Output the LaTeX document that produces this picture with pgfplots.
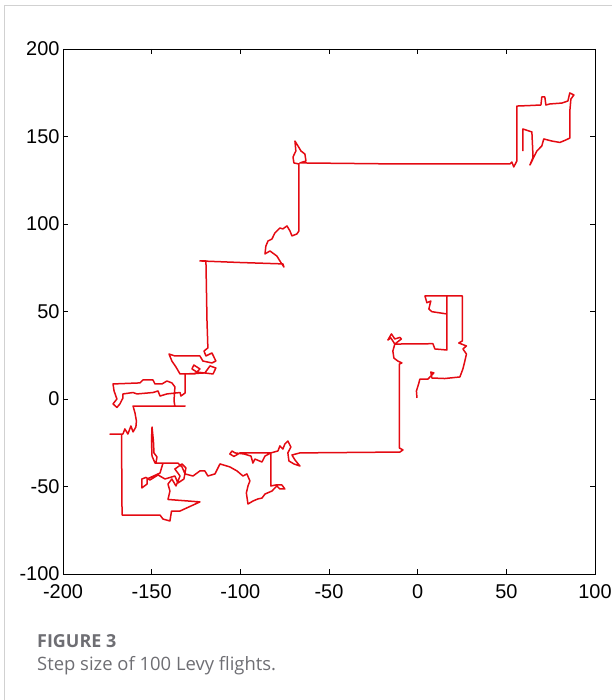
\documentclass[border=0pt]{standalone}
\usepackage{pgfplots}
\pgfplotsset{compat=1.18}
\usepackage{fontspec}
\setmainfont{Liberation Sans}
\newfontfamily\capfont{Open Sans}
\definecolor{levyred}{RGB}{228,10,18}
\definecolor{capgray}{RGB}{110,110,115}
\begin{document}
\begin{tikzpicture}[x=1bp,y=1bp]
\path[use as bounding box] (0,0) rectangle (612,-700);
\draw[black!18, line width=1bp] (4.5,-700) -- (4.5,-5.5) -- (612,-5.5);
\begin{axis}[
  at={(63bp,-49bp)}, anchor=north west,
  scale only axis, width=532bp, height=525bp,
  xmin=-200, xmax=100, ymin=-100, ymax=200,
  xtick={-200,-150,...,100}, ytick={-100,-50,...,200},
  tick align=inside, major tick length=5bp,
  axis line style={line width=0.8bp},
  tick style={line width=0.8bp, black},
  ticklabel style={font=\fontsize{20}{24}\selectfont},
  xticklabel style={yshift=-7bp},
  /pgf/number format/assume math mode=true,
]
\addplot[levyred, line width=1.5bp, line join=round] coordinates {
(59.3,141.7) (59.3,154.3) (64.4,152.6) (64.9,141.7) (64.9,137.7) (63.3,133.7)
(67.2,141.7) (70.0,144.6) (71.1,148.6) (75.7,147.4) (80.2,146.6) (83.5,148.0)
(85.8,149.1) (85.8,164.6) (86.4,171.4) (88.1,173.7) (85.8,174.9) (84.7,170.3)
(81.3,169.1) (74.5,168.6) (72.3,168.0) (71.7,172.6) (70.0,172.6) (69.5,168.0)
(63.3,167.7) (55.9,167.4) (55.9,136.0) (54.2,132.6) (53.1,135.4) (52.0,134.3)
(18.2,134.3) (-10.0,134.3) (-38.2,134.6) (-66.4,134.9)
(-63.0,136.0) (-63.6,140.0) (-65.8,141.7) (-67.5,144.6) (-69.2,147.4) (-68.7,141.7)
(-70.3,138.3) (-69.8,134.9) (-67.0,134.3) (-67.0,96.0) (-68.1,94.3) (-70.9,93.2)
(-72.0,96.0) (-73.7,98.9) (-76.0,97.2) (-77.7,97.7) (-80.5,94.9) (-82.2,91.4)
(-84.4,90.3) (-85.6,87.4) (-86.1,82.9) (-83.3,84.6) (-79.4,81.7) (-77.7,78.9)
(-75.4,75.4) (-76.0,77.2) (-100.2,78.0) (-122.8,78.9) (-119.4,78.9) (-118.8,44.6)
(-118.3,29.2)
(-120.5,27.4) (-119.4,24.6) (-116.0,26.3) (-113.8,21.7) (-116.0,20.6) (-121.1,21.7)
(-122.8,24.6) (-136.9,24.6) (-140.2,25.7) (-138.6,21.7) (-136.3,18.3) (-134.0,14.3)
(-125.6,14.3) (-122.8,17.2) (-126.2,19.4) (-127.3,17.2) (-124.5,15.4) (-115.4,14.3)
(-113.8,17.7) (-117.1,18.9) (-120.0,14.9) (-131.2,14.3) (-131.2,3.4) (-133.5,1.7)
(-134.0,3.7) (-141.4,2.9) (-145.3,1.7) (-146.4,4.6) (-149.3,3.7) (-158.3,2.9)
(-160.5,3.7) (-166.2,2.9) (-166.2,0.6) (-167.9,-2.8) (-169.6,-4.8) (-171.8,-2.8)
(-169.6,0.0) (-171.2,4.6) (-171.8,8.6) (-156.6,9.2) (-154.9,10.9) (-149.3,10.9)
(-148.1,8.6) (-144.2,8.6) (-141.4,10.3) (-138.6,9.2) (-136.9,6.9) (-137.4,-1.1)
(-136.9,-4.0) (-131.2,-4.0) (-160.5,-4.0) (-159.4,-8.0) (-158.6,-12.6) (-158.9,-16.0)
(-160.5,-18.8) (-161.7,-15.4) (-163.4,-20.0) (-165.1,-17.1) (-166.2,-20.0) (-173.5,-20.0)
(-167.0,-20.0) (-166.7,-66.3) (-145.3,-66.3) (-143.6,-68.6) (-139.7,-69.7) (-138.8,-64.0)
(-134.0,-64.0) (-122.8,-58.8) (-140.8,-57.4) (-139.7,-52.6) (-140.8,-48.6) (-138.6,-45.7)
(-136.3,-49.7) (-134.0,-44.0) (-136.9,-40.0) (-132.9,-37.1) (-130.7,-39.4) (-131.8,-45.7)
(-135.2,-48.0) (-136.9,-44.0) (-142.5,-45.7) (-146.4,-43.4) (-151.0,-46.3) (-153.2,-44.8)
(-155.5,-45.7) (-155.5,-50.8) (-152.6,-48.6) (-152.6,-45.7) (-145.3,-42.3) (-143.6,-36.6)
(-148.1,-36.6) (-149.8,-32.6) (-150.1,-24.0) (-149.8,-16.0) (-149.0,-24.0) (-148.7,-30.8)
(-147.0,-33.1) (-147.6,-36.6) (-135.2,-36.6) (-132.9,-38.8) (-131.2,-42.8) (-126.7,-44.0)
(-122.8,-41.1) (-120.0,-41.1) (-118.3,-44.0) (-114.3,-42.8) (-111.5,-37.1) (-105.9,-38.8)
(-101.9,-41.1) (-98.5,-44.0) (-96.3,-42.8) (-94.6,-46.8) (-95.7,-49.7) (-96.6,-53.7)
(-95.7,-60.0) (-92.9,-58.3) (-90.1,-57.1) (-87.8,-56.6) (-86.1,-54.3) (-82.2,-52.6)
(-79.4,-49.7) (-77.7,-51.4) (-74.9,-51.4) (-76.6,-49.1) (-79.9,-49.1) (-82.8,-49.7)
(-82.8,-30.8) (-86.1,-32.6) (-87.8,-36.0) (-91.8,-34.3) (-92.9,-36.6) (-94.0,-32.6)
(-98.0,-31.4) (-103.0,-30.8) (-104.7,-29.7) (-105.9,-31.4) (-103.6,-32.8) (-100.2,-30.8)
(-82.8,-30.8) (-78.8,-29.7) (-77.7,-26.8) (-76.0,-28.6) (-74.9,-25.7) (-73.2,-24.0)
(-71.5,-27.4) (-73.2,-30.8) (-72.6,-35.4) (-69.8,-37.1) (-66.4,-38.3) (-69.2,-34.8)
(-70.9,-32.0) (-66.4,-30.8) (-10.0,-30.3) (-8.3,-29.1) (-10.3,-28.0) (-10.3,20.0)
(-8.9,20.6) (-11.2,21.7) (-13.4,23.4) (-14.0,27.4) (-12.9,31.4) (-9.2,34.3)
(-10.0,35.2) (-12.9,34.3) (-14.8,37.2) (-16.8,33.7) (-15.1,34.9) (-12.9,31.4)
(8.6,31.6) (9.7,28.6) (16.5,28.0) (16.5,48.6) (8.0,49.9) (6.3,51.4)
(7.4,56.0) (5.2,55.0) (4.1,58.9) (16.5,58.9) (16.5,48.6) (16.5,58.9)
(25.2,58.9) (25.2,33.2) (23.2,32.0) (27.5,30.3) (25.5,28.6) (27.5,25.7)
(26.6,21.7) (25.5,17.2) (23.8,12.6) (15.3,11.7) (8.0,12.0) (7.4,15.4)
(9.1,14.9) (5.8,11.4) (1.2,11.3) (0.7,9.2) (-0.7,4.6) (-0.4,0.6)
};
\end{axis}
\node[anchor=base west, inner sep=0pt, text=capgray, font=\capfont\bfseries\fontsize{18}{22}\selectfont] at (37,-647) {FIGURE 3};
\node[anchor=base west, inner sep=0pt, text=capgray, font=\capfont\fontsize{18.5}{22}\selectfont] at (37,-670) {Step size of 100 Levy flights.};
\end{tikzpicture}
\end{document}
